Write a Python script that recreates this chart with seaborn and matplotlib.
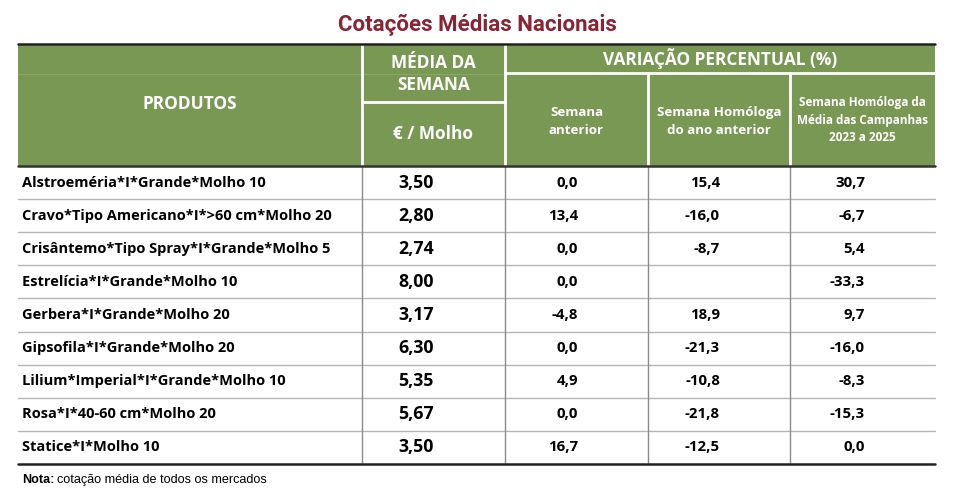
import matplotlib
matplotlib.use('Agg')
import matplotlib.pyplot as plt
from matplotlib.patches import Rectangle
import seaborn as sns

produtos = [
    'Alstroeméria*I*Grande*Molho 10',
    'Cravo*Tipo Americano*I*>60 cm*Molho 20',
    'Crisântemo*Tipo Spray*I*Grande*Molho 5',
    'Estrelícia*I*Grande*Molho 10',
    'Gerbera*I*Grande*Molho 20',
    'Gipsofila*I*Grande*Molho 20',
    'Lilium*Imperial*I*Grande*Molho 10',
    'Rosa*I*40-60 cm*Molho 20',
    'Statice*I*Molho 10',
]
media_semana = ['3,50', '2,80', '2,74', '8,00', '3,17', '6,30', '5,35', '5,67', '3,50']
var_semana_anterior = ['0,0', '13,4', '0,0', '0,0', '-4,8', '0,0', '4,9', '0,0', '16,7']
var_homologa_ano = ['15,4', '-16,0', '-8,7', '', '18,9', '-21,3', '-10,8', '-21,8', '-12,5']
var_homologa_campanhas = ['30,7', '-6,7', '5,4', '-33,3', '9,7', '-16,0', '-8,3', '-15,3', '0,0']

titulo = 'Cotações Médias Nacionais'
nota = 'cotação média de todos os mercados'

sns.set_theme(style='white')
plt.rcParams['font.family'] = ['Open Sans', 'DejaVu Sans']

GREEN = '#789853'
RED = '#8B2333'
W, H = 970, 503

fig = plt.figure(figsize=(W / 100, H / 100), dpi=100)
ax = fig.add_axes([0, 0, 1, 1])
ax.set_xlim(0, W)
ax.set_ylim(H, 0)
ax.axis('off')

# column borders
cols = [18, 362, 505, 648, 790, 935]
top, mid_var, mid_med, head_bot, bot = 44, 73, 102, 166, 464
row_h = (bot - head_bot) / len(produtos)

# title
ax.text(477, 25, titulo, ha='center', va='center', fontsize=16, fontweight='bold',
        color=RED, family=['Roboto', 'DejaVu Sans'])

# header background
ax.add_patch(Rectangle((cols[0], top), cols[-1] - cols[0], head_bot - top,
                       facecolor=GREEN, edgecolor='none'))
# faint cell line left over in the merged cells
ax.plot([cols[0], cols[2]], [74, 74], color='#88a766', lw=0.8)
# white grid of the header
for x in cols[1:3]:
    ax.plot([x, x], [top, head_bot], color='white', lw=2)
for x in cols[3:5]:
    ax.plot([x, x], [mid_var, head_bot], color='white', lw=2)
ax.plot([cols[1], cols[2]], [mid_med, mid_med], color='white', lw=2)
ax.plot([cols[2], cols[5]], [mid_var, mid_var], color='white', lw=2)

hk = dict(color='white', fontweight='bold', ha='center', va='center')
ax.text((cols[0] + cols[1]) / 2, 104, 'PRODUTOS', fontsize=12.4, **hk)
ax.text((cols[1] + cols[2]) / 2, 74, 'MÉDIA DA\nSEMANA', fontsize=12.4,
        linespacing=1.3, **hk)
ax.text((cols[1] + cols[2]) / 2, 134, '€ / Molho', fontsize=12.4, **hk)
ax.text((cols[2] + cols[5]) / 2, 58, 'VARIAÇÃO PERCENTUAL (%)', fontsize=12.4, **hk)
ax.text((cols[2] + cols[3]) / 2, 121, 'Semana\nanterior', fontsize=9.6,
        linespacing=1.5, **hk)
ax.text((cols[3] + cols[4]) / 2, 121, 'Semana Homóloga\ndo ano anterior', fontsize=9.6,
        linespacing=1.5, **hk)
ax.text((cols[4] + cols[5]) / 2, 120, 'Semana Homóloga da\nMédia das Campanhas\n2023 a 2025',
        fontsize=8.5, linespacing=1.45, **hk)

# body lines
for i in range(1, len(produtos)):
    y = head_bot + i * row_h
    ax.plot([cols[0], cols[-1]], [y, y], color='#b5b5b5', lw=1)
for x in cols[1:5]:
    ax.plot([x, x], [head_bot, bot], color='#8a8a8a', lw=1)
ax.plot([cols[0], cols[-1]], [top, top], color='#222222', lw=1.8)
ax.plot([cols[0], cols[-1]], [head_bot, head_bot], color='#333333', lw=1.8)
ax.plot([cols[0], cols[-1]], [bot, bot], color='#222222', lw=1.8)

# body text
right_x = [434, 578, 720, 865]
for i, prod in enumerate(produtos):
    y = head_bot + (i + 0.5) * row_h
    ax.text(22, y, prod, ha='left', va='center', fontsize=10.5, fontweight='bold',
            color='black')
    ax.text(right_x[0], y, media_semana[i], ha='right', va='center', fontsize=12.8,
            fontweight='bold', color='black')
    vals = [var_semana_anterior[i], var_homologa_ano[i], var_homologa_campanhas[i]]
    for x, v in zip(right_x[1:], vals):
        ax.text(x, y, v, ha='right', va='center', fontsize=10.8, fontweight='bold',
                color='black')

# footnote
fam_nota = ['Liberation Sans', 'DejaVu Sans']
t = ax.text(22, 480, 'Nota:', ha='left', va='center', fontsize=9.1, fontweight='bold',
            color='black', family=fam_nota)
fig.canvas.draw()
bb = t.get_window_extent()
x_after = ax.transData.inverted().transform((bb.x1, bb.y0))[0]
ax.text(x_after + 3, 480, nota, ha='left', va='center', fontsize=9.1,
        color='black', family=fam_nota)

fig.savefig('out.png', dpi=100, facecolor='white')
